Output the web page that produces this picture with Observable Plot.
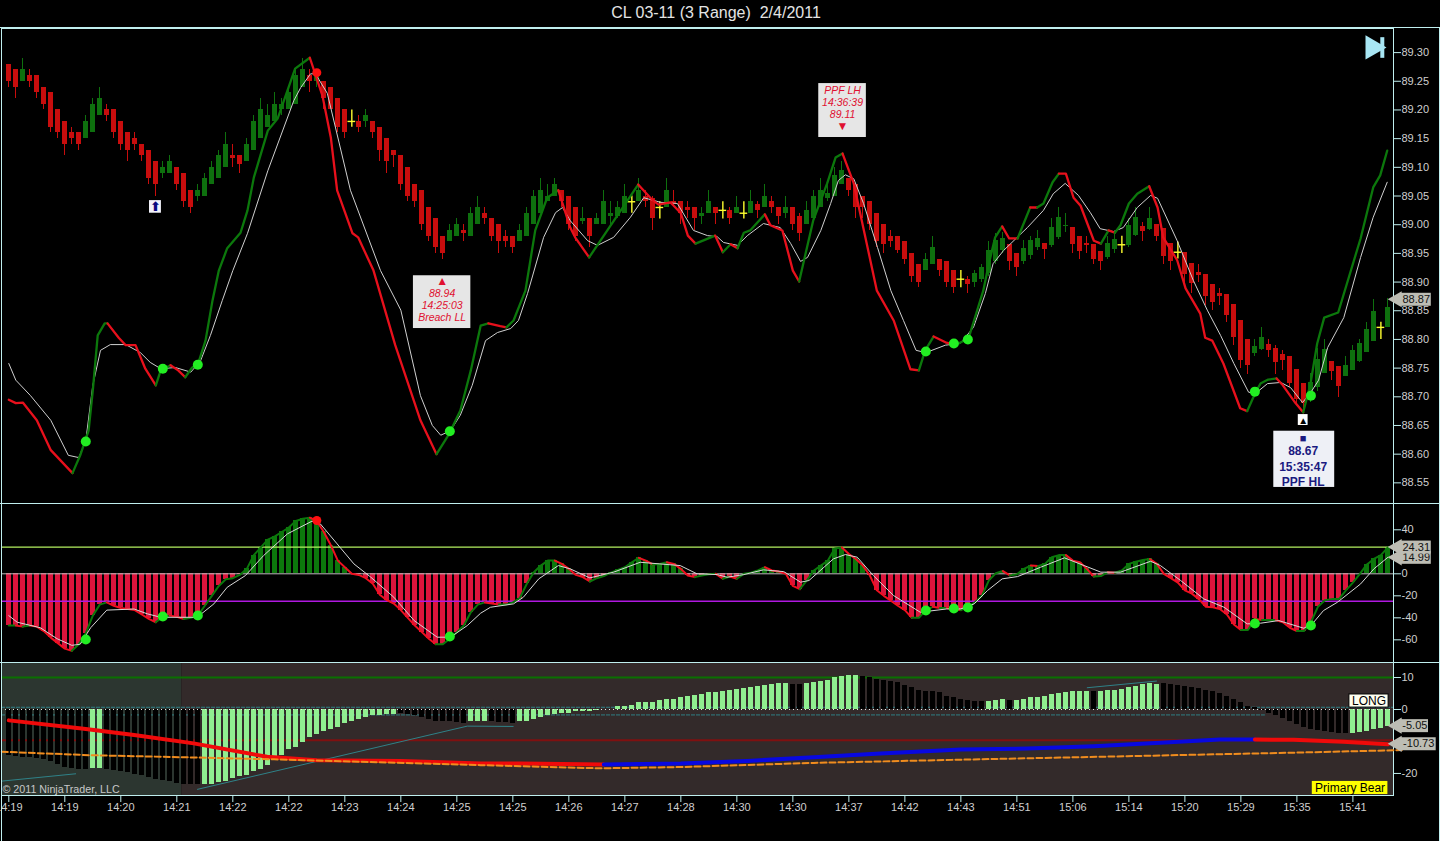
<!DOCTYPE html>
<html>
<head>
<meta charset="utf-8">
<script src="https://cdn.jsdelivr.net/npm/d3@7"></script>
<script src="https://cdn.jsdelivr.net/npm/@observablehq/plot@0.6"></script>
<style>
html,body{margin:0;padding:0;background:#000;width:1440px;height:841px;overflow:hidden}
body{font-family:"Liberation Sans",Arial,sans-serif}
#title{position:absolute;left:0;top:0;width:1432px;height:27px;line-height:26px;text-align:center;color:#e4e4e4;font-size:16px;white-space:pre}
.panel{position:absolute;left:0;width:1440px}
.panel svg{display:block}
.hl{position:absolute;left:0;width:1440px;height:1px;background:#bfeeee}
.vl{position:absolute;top:27px;width:1px;background:#bfeeee}
</style>
</head>
<body>
<div id="title">CL 03-11 (3 Range)  2/4/2011</div>
<div id="p1" class="panel" style="top:28px"></div>
<div id="p2" class="panel" style="top:503px"></div>
<div id="p3" class="panel" style="top:662px"></div>
<div class="hl" style="top:27px"></div>
<div class="hl" style="top:503px"></div>
<div class="hl" style="top:662px"></div>
<div class="vl" style="left:1px;height:814px"></div>
<div class="vl" style="left:1439px;height:814px"></div>
<script>
const opens = [89.28,89.27,89.25,89.26,89.26,89.24,89.23,89.20,89.18,89.16,
89.16,89.15,89.16,89.19,89.20,89.20,89.18,89.16,89.15,89.14,
89.13,89.11,89.09,89.09,89.10,89.09,89.06,89.05,89.05,89.07,
89.08,89.10,89.12,89.12,89.11,89.13,89.15,89.17,89.18,89.20,
89.20,89.21,89.24,89.26,89.25,89.25,89.24,89.22,89.20,89.18,
89.18,89.18,89.18,89.17,89.15,89.13,89.12,89.10,89.07,89.06,
89.03,89.01,88.98,88.97,88.98,88.99,88.98,89.00,89.02,89.01,
89.00,88.98,88.98,88.97,88.98,89.00,89.02,89.04,89.05,89.06,
89.05,89.03,89.005,89.01,89.00,89.00,89.015,89.015,89.02,89.04,
89.04,89.05,89.045,89.03,89.03,89.04,89.04,89.03,89.03,89.015,
89.02,89.03,89.025,89.025,89.02,89.02,89.02,89.035,89.03,89.04,
89.03,89.02,89.03,89.015,89.00,89.01,89.03,89.045,89.05,89.07,
89.08,89.07,89.05,89.04,89.02,89.00,88.98,88.98,88.97,88.95,
88.93,88.92,88.93,88.94,88.935,88.92,
88.905,88.905,88.90,88.905,88.915,88.935,88.955,88.965,88.95,88.936,88.946,88.96,88.968,88.963,88.978,88.996,88.995,88.98,88.968,88.966,88.953,88.943,88.956,88.965,88.964,88.982,88.996,88.992,89.001,88.993,88.968,88.952,88.952,88.933,88.916,88.914,88.896,88.88,88.878,88.861,88.833,88.80,88.776,88.782,88.792,88.785,88.774,88.77,88.747,88.723,88.70,88.716,88.74,88.761,88.753,88.736,88.745,88.762,88.778,88.797,88.821,88.821];
const closes = [89.25,89.24,89.27,89.25,89.23,89.21,89.17,89.16,89.14,89.15,
89.14,89.18,89.21,89.22,89.19,89.16,89.14,89.13,89.14,89.12,
89.08,89.07,89.10,89.11,89.07,89.04,89.03,89.06,89.08,89.10,
89.12,89.14,89.115,89.105,89.14,89.18,89.20,89.19,89.21,89.21,
89.23,89.26,89.27,89.25,89.26,89.22,89.20,89.17,89.16,89.18,
89.17,89.19,89.16,89.13,89.11,89.12,89.07,89.05,89.04,89.00,
88.98,88.96,88.95,88.99,89.00,88.985,89.02,89.03,89.01,88.98,
88.97,88.97,88.96,88.99,89.02,89.05,89.06,89.05,89.07,89.04,
89.00,88.98,89.01,88.98,89.01,89.04,89.02,89.03,89.05,89.04,
89.06,89.04,89.01,89.03,89.06,89.035,89.02,89.025,89.01,89.02,
89.04,89.02,89.025,89.01,89.03,89.02,89.04,89.025,89.05,89.03,
89.015,89.03,89.00,88.985,89.025,89.05,89.06,89.055,89.085,89.095,
89.06,89.03,89.03,89.00,88.97,88.965,88.97,88.955,88.94,88.91,
88.90,88.94,88.96,88.92,88.90,88.89,
88.905,88.895,88.915,88.925,88.955,88.972,88.976,88.935,88.925,88.958,88.972,88.976,88.957,88.995,89.012,88.999,88.965,88.954,88.963,88.94,88.935,88.968,88.975,88.965,88.998,89.012,88.989,89.01,88.98,88.945,88.935,88.952,88.914,88.897,88.911,88.874,88.865,88.874,88.842,88.804,88.764,88.755,88.787,88.803,88.78,88.759,88.763,88.723,88.696,88.688,88.725,88.765,88.782,88.744,88.718,88.755,88.78,88.793,88.817,88.849,88.821,88.855];
const highs = [89.28,89.27,89.29,89.27,89.26,89.24,89.23,89.20,89.18,89.17,
89.16,89.19,89.22,89.24,89.21,89.20,89.18,89.16,89.16,89.14,
89.13,89.11,89.11,89.12,89.10,89.09,89.06,89.07,89.09,89.11,
89.13,89.16,89.14,89.12,89.15,89.19,89.22,89.21,89.23,89.22,
89.24,89.27,89.29,89.27,89.27,89.25,89.24,89.22,89.20,89.20,
89.19,89.20,89.18,89.17,89.15,89.13,89.12,89.10,89.07,89.06,
89.03,89.01,88.98,89.00,89.01,89.00,89.03,89.05,89.03,89.01,
89.00,88.99,88.98,89.00,89.03,89.06,89.08,89.07,89.08,89.06,
89.05,89.03,89.03,89.01,89.02,89.06,89.04,89.04,89.07,89.05,
89.08,89.06,89.05,89.04,89.08,89.06,89.04,89.04,89.03,89.03,
89.06,89.03,89.04,89.03,89.05,89.04,89.06,89.04,89.07,89.05,
89.03,89.05,89.03,89.02,89.04,89.06,89.08,89.07,89.10,89.11,
89.08,89.07,89.05,89.04,89.02,89.00,88.99,88.98,88.97,88.95,
88.93,88.95,88.98,88.94,88.935,88.92,
88.92,88.91,88.92,88.93,88.97,88.985,88.987,88.965,88.95,88.972,88.98,88.99,88.968,89.01,89.03,89.02,88.995,88.98,88.98,88.966,88.953,88.98,88.987,88.98,89.01,89.03,89.004,89.03,89.001,88.993,88.968,88.97,88.952,88.933,88.93,88.914,88.896,88.888,88.878,88.861,88.833,88.80,88.80,88.82,88.80,88.79,88.78,88.77,88.747,88.723,88.74,88.784,88.80,88.761,88.753,88.77,88.79,88.80,88.83,88.87,88.83,88.872];
const lows = [89.24,89.22,89.25,89.24,89.22,89.20,89.16,89.15,89.12,89.14,
89.13,89.15,89.16,89.19,89.18,89.15,89.13,89.11,89.13,89.11,
89.07,89.05,89.08,89.09,89.06,89.03,89.02,89.04,89.05,89.07,
89.08,89.10,89.10,89.09,89.11,89.13,89.15,89.17,89.18,89.19,
89.20,89.21,89.24,89.23,89.24,89.20,89.20,89.16,89.15,89.17,
89.16,89.17,89.15,89.11,89.09,89.10,89.06,89.04,89.03,88.99,
88.97,88.95,88.94,88.97,88.98,88.97,88.98,89.00,89.00,88.97,
88.95,88.96,88.95,88.97,88.98,89.00,89.02,89.04,89.05,89.03,
88.99,88.97,89.00,88.96,89.00,89.00,89.00,89.01,89.02,89.02,
89.04,89.03,88.99,89.01,89.03,89.03,89.00,89.01,88.99,89.00,
89.02,89.00,89.01,89.00,89.02,89.01,89.02,89.01,89.03,89.02,
89.00,89.01,88.99,88.97,89.00,89.01,89.03,89.04,89.05,89.07,
89.05,89.01,89.01,88.99,88.96,88.95,88.96,88.95,88.93,88.90,
88.89,88.92,88.93,88.91,88.89,88.88,
88.89,88.88,88.89,88.90,88.91,88.93,88.95,88.92,88.91,88.93,88.94,88.955,88.94,88.96,88.975,88.987,88.95,88.94,88.95,88.93,88.92,88.94,88.95,88.95,88.96,88.98,88.97,88.99,88.97,88.93,88.92,88.94,88.90,88.88,88.90,88.86,88.85,88.86,88.83,88.79,88.75,88.739,88.77,88.78,88.768,88.739,88.746,88.717,88.688,88.676,88.69,88.71,88.74,88.728,88.698,88.736,88.745,88.76,88.778,88.797,88.80,88.82];

const fastBars = [0,1,2,4,6,9.1,10.2,11.4,12,12.7,13.7,14.1,15.7,16.7,18.1,19.5,21,21.7,23.1,24.2,25.2,26.2,27.1,28.1,29.1,30,31.2,33.1,34.1,35,37,38.4,40.9,43,44.8,46,46.9,49.1,49.9,52.1,55.2,58.8,61.1,62.8,64.5,66,67.4,68.5,70.2,71.1,72.1,73.8,75.2,76.9,78.5,80.2,80.9,82.9,89.9,91.7,92.8,94.5,96,97,98.1,100.9,102,103.1,104.1,105,105.9,108,108.8,110.5,112,112.9,114.9,116.9,118.1,119.1,120.7,124,126.4,128.8,130,130.9,132.1,133.8,135.2,137.1,139.2,140,140.9,141.9,142.9,144.1,145.9,146.9,147.8,149.1,150,151,152.1,153.1,155,156,157.1,158,158.8,160,161.2,162.9,164.1,164.9,166.9,168.1,170.2,170.9,171.9,173.5,175.9,176.9,178.1,178.8,179.9,181.1,182,183.8,184.9,185.9,186.9,187.9,189.9,193.1,194.9,195.9,196.9];
const fastVals = [88.695,88.689,88.69,88.659,88.607,88.567,88.598,88.641,88.711,88.807,88.828,88.828,88.803,88.79,88.79,88.749,88.72,88.746,88.755,88.746,88.734,88.751,88.76,88.798,88.868,88.92,88.959,88.986,89.025,89.082,89.164,89.185,89.272,89.291,89.225,89.152,89.06,88.985,88.978,88.92,88.79,88.659,88.60,88.633,88.676,88.746,88.824,88.828,88.823,88.821,88.833,88.885,88.99,89.047,89.06,88.995,88.978,88.943,89.07,89.046,89.035,89.039,89.02,88.981,88.967,88.981,88.952,88.966,88.959,88.986,88.99,89.018,88.999,88.99,88.92,88.901,89.007,89.072,89.117,89.124,89.072,88.885,88.833,88.748,88.746,88.781,88.805,88.795,88.79,88.802,88.885,88.932,88.978,88.997,88.976,88.976,89.03,89.03,89.037,89.074,89.089,89.089,89.047,89.033,88.972,88.967,88.99,88.986,88.999,89.037,89.054,89.067,89.03,88.978,88.938,88.889,88.845,88.803,88.798,88.758,88.68,88.675,88.708,88.723,88.73,88.732,88.72,88.689,88.673,88.72,88.793,88.838,88.847,88.976,89.065,89.086,89.129];
const fastTurns = [9.1,14.1,21,23.1,25.2,43,61.1,68.5,71.1,78.5,82.9,89.9,98.1,100.9,102,103.1,104.1,108,112.9,119.1,130,132.1,135.2,141.9,144.1,145.9,146.9,150,156,157.1,158,162.9,176.9,181.1,184.9];
const slowBars = [0,1,3.1,6,8.5,10,11,12,13.1,14.5,16.7,18.8,20.2,21.7,23.8,26,27.4,28.8,30.5,32,34.1,37,40.7,41.7,43.1,43.8,45.5,48.8,53.1,56,58.8,60.5,61.7,63.1,64.5,66.2,68.1,69.8,71.7,72.8,74.1,76.4,78.1,79.1,80.2,82.7,84.1,86.4,88.8,90.7,93.1,95.5,97.8,99.8,101.2,102.1,104.1,105.5,107.8,110.2,111.7,113.1,114.1,116,117.4,118.5,119.5,120.7,122.1,124.1,126,127.8,129.6,131,133.8,135.9,137.8,139.5,140.6,142.1,145.5,147.8,149.2,150.9,152.8,154.5,155.9,157.8,159.2,161.2,163.1,164.1,166.9,169.2,171.2,173.1,175,177.1,178.1,179.8,181.7,183.1,184.8,185.9,187.1,188.4,190.7,193.1,194.9,196.9];
const slowVals = [88.758,88.729,88.702,88.659,88.598,88.594,88.624,88.72,88.781,88.791,88.791,88.777,88.76,88.749,88.751,88.743,88.763,88.807,88.868,88.92,88.985,89.094,89.216,89.239,89.263,89.263,89.229,89.06,88.92,88.851,88.702,88.65,88.633,88.641,88.668,88.72,88.798,88.812,88.819,88.833,88.88,88.978,89.021,89.03,89.007,88.972,88.964,88.978,89.013,89.047,89.039,89.037,88.99,88.981,88.979,88.969,88.964,88.981,89.002,88.995,88.967,88.936,88.943,88.99,89.037,89.077,89.087,89.08,89.037,88.96,88.885,88.833,88.781,88.777,88.79,88.793,88.821,88.88,88.932,88.955,88.995,89.025,89.054,89.072,89.051,89.021,88.993,88.988,88.995,89.03,89.051,89.046,88.972,88.903,88.851,88.807,88.758,88.708,88.706,88.723,88.725,88.716,88.69,88.706,88.729,88.786,88.838,88.943,89.013,89.074];
const dotBars = [11,22,27,63,131,135,137,178,186];
const dotPrices = [88.622,88.749,88.756,88.64,88.779,88.793,88.80,88.709,88.702];
const dotMomentum = [-59.7,-38.8,-37.9,-57,-33.4,-31.5,-30.6,-45.2,-47];
const peakBar = 44, peakPrice = 89.265, peakMomentum = 48.5;

const momentum = [-47,-47,-48,-47,-48,-52,-58,-63,-68,-70,-64,-54,-38,-28,-26,-29,-31,-32,-33,-37,-41,-44,-39,-38,-39,-41,-40,-38,-29,-20,-11,-5,-4,-1,4.5,17,24,31,34,38,42,48,50,51,48,38,26,12,6,0,-1,-4,-9,-19,-24,-27,-33,-40,-47,-53,-59,-64,-64,-59,-53,-47,-35,-28,
-26,-27,-28,-28,-26,-22,-9,1.5,7.5,12,12,9,4.5,-1,-3,-7,-4,-2,1,3.5,6,10.5,14.5,12,8.5,9,10.5,9,4.5,-1.5,-3,-1.5,-.5,0,-4.5,-2.5,-4.5,0,1,3,6,3,2,0,-11,-14,-6,3,7.5,12,23,24,18,13.5,7.5,-1.5,-15,-20,-24.5,-29,-33,-40,-40,-33,-30,-31,-31,-32,
-33,-30.5,-26,-20,-6,.5,2.5,-1.5,-.5,4.5,7.5,7,9,15,17,17,12,10.5,4.5,-2.5,-2,1.5,1,3,9,11,12.5,13.5,9,0,-4,-8,-15,-18,-23,-30,-30.5,-32,-37,-46,-51,-51,-41,-42,-42,-42,-44,-49,-52,-52,-44,-30,-24,-23,-23,-15,-8,0,8.5,13.5,17,24];
const signalBars = [0,1.2,4.5,6.9,9,10.2,11.7,14,17.9,19.8,21.7,26.9,29.3,31.2,33.8,36.4,39.8,43.3,44.5,46.9,49.3,51.7,55,57.9,61.2,63.1,65.5,67.4,68.8,72.1,73.5,75.7,78.5,80.2,83,86.4,90.2,93,95.9,98.3,101.2,102.6,105,107.8,110.7,113.1,114.3,117.8,119.5,121.2,123.5,126.4,130.2,134,136,137.9,139.8,141.9,144.1,147.4,150.8,153.6,156,158.8,163.1,164.5,167.4,170.7,173.6,176.9,178.8,181.4,185,186.4,187.8,189.8,193.1,195,197];
const signalVals = [-38,-44,-49,-59,-65,-64,-49,-33,-32,-36.4,-39.5,-39.5,-27.3,-12.2,-1.6,16.6,36.3,47.8,45.4,27.2,9,-3,-21.3,-42.5,-57.6,-57.6,-47,-35.8,-30.4,-27.3,-21.3,-4.6,7.5,4.5,-3.7,1.5,10.5,9,7.5,0,-0.7,-3.1,-0.7,3.6,2,-7.6,-6.1,13.6,17.5,15.1,-1.6,-19.8,-34.9,-31.9,-31.9,-27.3,-15.2,-4.6,-2.5,6,14.5,7.5,1.5,1.5,11.4,7.5,-6.1,-22.8,-30.4,-45.5,-44.9,-42.5,-49.5,-44,-33.4,-25.8,-9.2,4.5,15];

const osc = [-14.5,-14.7,-15,-15,-15.2,-15.5,-16.4,-17.2,-18,-18.5,-18.8,-18.8,-18.5,-18.5,-18.8,-19,-19.5,-19.8,-20.3,-20.7,-21.4,-21.9,-22.2,-22.6,-23.2,-23.6,-23.6,-23.6,-23.6,-23.4,-22.9,-22.4,-21.6,-21.1,-20.5,-19.5,-18.8,-17.4,-15.9,-14.3,-12.5,-12,-10.4,-8.9,-7.8,-7,-6.1,-5.5,-4.5,-3.9,-3.2,-2.4,-2,-1.8,-1.6,-1.6,-1.4,-1.6,-1.8,-2.6,-3.1,-3.6,-3.9,-3.9,-4.2,-4.5,-3.9,-3.9,
-3.9,-3.9,-4.2,-4.2,-4.4,-3.9,-3.6,-3,-2.4,-1.8,-1.6,-1.1,-1.1,-.7,-.7,-.7,-.3,-.1,.1,.8,.9,1.2,2.1,2.3,2.3,2.9,3.2,3,3.9,4.2,4.5,4.7,5.2,5.4,5.5,5.9,6.4,6.7,7,7.3,7.5,7.9,8,8.2,7.9,7.9,8.2,8.4,8.9,9.2,9.9,10.4,10.5,10.7,10.4,9.9,9.5,9.2,8.9,8.3,7.6,6.8,6,5.7,5.5,5.2,4.2,3.9,
3.1,2.8,2.6,2.6,2.6,2.8,3.1,2.8,2.9,3.1,3.9,3.9,4.2,4.7,5.1,5.4,5.6,5.7,5.7,5.7,5.7,5.9,5.9,6.3,7,7.3,7.8,8,7.8,
8,7.8,7.6,7.3,7,6.6,5.9,5.5,4.9,4.2,3.1,2.1,1,.5,-.3,-1.3,-1.8,-2.8,-3.6,-4.7,-5.5,-6.4,-6.6,-6.8,-7.1,-7.6,-7.6,
-7.4,-7.2,-6.8,-6.1,-5.9,-5.3];
const oscGreenRuns = [[12,13],[28,55],[66,68],[73,85],[87,111],[114,121],[140,142],[144,154],[156,164],[192,197]];
const trendBars = [0,10.7,17.9,26.4,36.9,44,56,67.4,73.1,85,96,105.5,115,124.5,136,145.5,155,164.5,173,178,183.5,190.6,197];
const trendVals = [-3.4,-6,-8,-10.6,-14.8,-15.9,-16.1,-16.9,-16.9,-17.2,-16.9,-16.1,-14.9,-13.8,-12.5,-12.2,-11.5,-10.4,-9.4,-9.4,-9.5,-10.1,-10.9];
const avgBars = [-1,0,11.7,28.3,37.9,46.4,67.4,84.5,96,115,136,159.8,183.6,197,199];
const avgVals = [-13.2,-13.3,-14.3,-15.1,-15.6,-16.1,-17.4,-18.4,-18,-16.7,-15.7,-14.6,-13.5,-12.8,-12.7];
const channels = [[-1,-22.4,9.6,-20.1],[26.9,-25,65.5,-5.2],[65.5,-5.2,72.1,-5.3],[154,6.8,164,8.9]];

const timeLabels = ["14:19","14:19","14:20","14:21","14:22","14:22","14:23","14:24","14:25","14:25","14:26","14:27","14:28","14:30","14:30","14:37","14:42","14:43","14:51","15:06","15:14","15:20","15:29","15:35","15:41"];
const priceTicks = [88.55,88.60,88.65,88.70,88.75,88.80,88.85,88.90,88.95,89.00,89.05,89.10,89.15,89.20,89.25,89.30];
const momentumTicks = [40,0,-20,-40,-60];
const oscTicks = [10,0,-20];

const FONT = "Liberation Sans";
const FRAME = "#bfeeee", AXIS = "#cfcfcf";
const GREEN = "#0c780c", RED = "#e8101c", CRIMSON = "#dc143c", LIME = "#22ee22", PALE = "#90ee90", YELLOW = "#ffff30";
const CRISP = "crispEdges";
const bars = d3.range(opens.length);
const xScale = {domain:[-1.043,197.8], range:[1,1393]};
const base = h => ({width:1440, height:h, marginLeft:1, marginRight:47, marginTop:0, marginBottom:0,
  x:{...xScale, axis:null}, color:{type:"identity"},
  style:{background:"transparent", fontFamily:FONT, overflow:"visible"}});
const yAxis = (ticks,fmt) => Plot.axisY(ticks,{anchor:"right",label:null,tickSize:7,tickPadding:1,stroke:FRAME,fill:AXIS,fontSize:11,tickFormat:fmt});

function flag(val,text,x2){
  return [
    Plot.dot([val],{x:198.3,y:d=>d,symbol:"triangle",rotate:-90,r:6,fill:"#bdbdb4"}),
    Plot.ruleY([val],{x1:198.8,x2,strokeWidth:13,stroke:"#bdbdb4"}),
    Plot.text([text],{x:(198.9+x2)/2,y:()=>val,text:d=>d,fill:"#111",fontSize:11})
  ];
}
function runs(xs,ys,colorOf){
  const out=[]; let run=0, prev=null;
  xs.forEach((x,i)=>{
    const c=colorOf(i);
    if(prev!==null && c!==prev){ out.push({x,y:ys[i],run,color:prev}); run++; }
    out.push({x,y:ys[i],run,color:c}); prev=c;
  });
  return out;
}
const fastRows = runs(fastBars,fastVals,i=>fastTurns.filter(t=>t<=fastBars[i]).length%2? GREEN:RED);
const momRows = runs(bars,momentum,i=>(i<momentum.length-1?momentum[i+1]>=momentum[i]:true)?GREEN:RED);
const isDoji = i=> closes[i]===opens[i];
const colorCandle = i=> closes[i]>opens[i]?"#0e700e":closes[i]<opens[i]?"#c80d0d":YELLOW;

const priceCallouts = [
  {x1:57.8,x2:66,y1:88.819,y2:88.911,fill:"#e6e6e6"},
  {x1:115.7,x2:122.5,y1:89.152,y2:89.246,fill:"#e6e6e6"},
  {x1:180.7,x2:189.4,y1:88.542,y2:88.64,fill:"#eef0f6"},
  {x1:184.2,x2:185.6,y1:88.65,y2:88.669,fill:"#ffffff"},
  {x1:20.1,x2:21.8,y1:89.02,y2:89.042,fill:"#f2f2fa"}
];
const lossLines = [{x:61.9,y:88.901,t:"▲",s:12},{x:61.9,y:88.88,t:"88.94",s:10.5},{x:61.9,y:88.859,t:"14:25:03",s:10.5},{x:61.9,y:88.838,t:"Breach LL",s:10.5},
  {x:119.1,y:89.234,t:"PPF LH",s:10.5},{x:119.1,y:89.213,t:"14:36:39",s:10.5},{x:119.1,y:89.192,t:"89.11",s:10.5},{x:119.1,y:89.171,t:"▼",s:12}];
const gainLines = [{x:184.9,y:88.628,t:"■",s:11},{x:184.9,y:88.605,t:"88.67",s:12},{x:184.9,y:88.577,t:"15:35:47",s:12},{x:184.9,y:88.551,t:"PPF HL",s:12}];

document.getElementById("p1").appendChild(Plot.plot({...base(475),
  y:{domain:[88.514,89.342],range:[475,0],axis:null},
  marks:[
    Plot.frame({stroke:FRAME}),
    yAxis(priceTicks,d=>d.toFixed(2)),
    Plot.ruleX(bars.filter(i=>!isDoji(i)),{x:d=>d,y1:i=>lows[i],y2:i=>highs[i],stroke:i=>colorCandle(i),strokeWidth:1,shapeRendering:CRISP}),
    Plot.ruleX(bars.filter(i=>!isDoji(i)),{x:d=>d,y1:i=>opens[i],y2:i=>closes[i],stroke:i=>colorCandle(i),strokeWidth:5,shapeRendering:CRISP}),
    Plot.ruleX(bars.filter(isDoji),{x:d=>d,y1:i=>lows[i],y2:i=>highs[i],stroke:YELLOW,strokeWidth:1.4}),
    Plot.ruleY(bars.filter(isDoji),{x1:i=>i-0.55,x2:i=>i+0.55,y:i=>opens[i],stroke:YELLOW,strokeWidth:1.4}),
    Plot.line(slowBars.map((b,i)=>({b,v:slowVals[i]})),{x:"b",y:"v",stroke:"#d0d0d0",strokeWidth:1}),
    Plot.line(fastRows,{x:"x",y:"y",z:"run",stroke:"color",strokeWidth:2.3,curve:"linear"}),
    Plot.dot(dotBars,{x:d=>d,y:(d,i)=>dotPrices[i],r:5,fill:LIME}),
    Plot.dot([peakBar],{x:d=>d,y:()=>peakPrice,r:4.5,fill:"#ff1010"}),
    Plot.rect(priceCallouts,{x1:"x1",x2:"x2",y1:"y1",y2:"y2",fill:"fill"}),
    Plot.text(lossLines,{x:"x",y:"y",text:"t",fill:"#e01030",fontSize:d=>d.s,fontStyle:"italic"}),
    Plot.text(gainLines,{x:"x",y:"y",text:"t",fill:"#1a1a80",fontSize:d=>d.s,fontWeight:"bold"}),
    Plot.text(["▲"],{x:184.9,y:()=>88.659,text:d=>d,fill:"#000",fontSize:10}),
    Plot.text(["⬆"],{x:20.95,y:()=>89.031,text:d=>d,fill:"#0a0a80",fontSize:13,fontWeight:"bold",fontFamily:"DejaVu Sans"}),
    Plot.dot([194.8],{x:d=>d,y:()=>89.309,symbol:"triangle",rotate:90,r:9,fill:"#a8e6f4"}),
    Plot.ruleX([196.2],{y1:()=>89.29,y2:()=>89.326,stroke:"#a8e6f4",strokeWidth:4}),
    ...flag(88.87,"88.87",203.2)
  ]}));

document.getElementById("p2").appendChild(Plot.plot({...base(159),
  y:{domain:[-80.6,63.9],range:[159,0],axis:null},
  marks:[
    Plot.frame({stroke:FRAME}),
    yAxis(momentumTicks,d=>String(d)),
    Plot.ruleX(bars,{x:d=>d,y1:()=>0,y2:i=>momentum[i],stroke:i=>momentum[i]>=0?GREEN:CRIMSON,strokeWidth:5,shapeRendering:CRISP}),
    Plot.ruleY([24.31],{stroke:"#b4f060",strokeWidth:1.3}),
    Plot.ruleY([0],{stroke:"#bdbdbd",strokeWidth:1}),
    Plot.ruleY([-25],{stroke:"#b018e0",strokeWidth:1.4}),
    Plot.line(momRows,{x:"x",y:"y",z:"run",stroke:d=>d.color===GREEN?GREEN:"#f01020",strokeWidth:2}),
    Plot.line(signalBars.map((b,i)=>({b,v:signalVals[i]})),{x:"b",y:"v",stroke:"#d8d8d8",strokeWidth:1}),
    Plot.dot(dotBars,{x:d=>d,y:(d,i)=>dotMomentum[i],r:5,fill:LIME}),
    Plot.dot([peakBar],{x:d=>d,y:()=>peakMomentum,r:4.5,fill:"#ff1010"}),
    ...flag(14.99,"14.99",203.2),
    ...flag(24.31,"24.31",203.2)
  ]}));

const inGreen = i=>oscGreenRuns.some(([a,b])=>i>=a&&i<=b);
const trendRows = runs(trendBars,trendVals,i=>trendBars[i]>=85&&trendBars[i]<178?"#0808e0":"#f00a0a");
const ticksX = timeLabels.map((_,i)=>i*8);
document.getElementById("p3").appendChild(Plot.plot({...base(179),marginBottom:46,
  y:{domain:[-26.9,14.7],axis:null},
  marks:[
    Plot.rect([{a:-1.043,b:24.7,c:"#2c3630"},{a:24.7,b:197.8,c:"#332a2a"}],{x1:"a",x2:"b",y1:()=>-26.9,y2:()=>14.7,fill:"c"}),
    Plot.frame({stroke:FRAME}),
    yAxis(oscTicks,d=>String(d)),
    Plot.axisX(ticksX,{anchor:"bottom",label:null,tickSize:7,tickPadding:1,stroke:FRAME,fill:AXIS,fontSize:11,tickFormat:d=>timeLabels[d/8]}),
    Plot.ruleY([10],{stroke:"#0a7000",strokeWidth:2}),
    Plot.ruleY([-9.6],{stroke:"#801010",strokeWidth:2}),
    Plot.ruleY([0.7],{stroke:"#2f7f85",strokeWidth:1,strokeDasharray:"4,1"}),
    Plot.ruleY([-1.7],{x1:-1.043,x2:179.5,stroke:"#2f7f85",strokeWidth:1,strokeDasharray:"4,1"}),
    Plot.ruleX(bars,{x:d=>d,y1:()=>0,y2:i=>osc[i],stroke:i=>inGreen(i)?PALE:"#000",strokeWidth:5,shapeRendering:CRISP}),
    Plot.ruleY([0],{stroke:"#eaeaea",strokeWidth:1,strokeDasharray:"1,3"}),
    Plot.link(channels,{x1:d=>d[0],y1:d=>d[1],x2:d=>d[2],y2:d=>d[3],stroke:"#2f8288",strokeWidth:1}),
    Plot.line(trendRows,{x:"x",y:"y",z:"run",stroke:"color",strokeWidth:4}),
    Plot.line(avgBars.map((b,i)=>({b,v:avgVals[i]})),{x:"b",y:"v",stroke:"#f08c1e",strokeWidth:2,strokeDasharray:"6,3"}),
    Plot.text(["© 2011 NinjaTrader, LLC"],{x:-0.9,y:()=>-25,text:d=>d,textAnchor:"start",fill:"#c8c8c8",fontSize:10.7}),
    Plot.rect([0],{x1:191.5,x2:197.1,y1:()=>0.6,y2:()=>4.7,fill:"#fffff0",stroke:"#000"}),
    Plot.text(["LONG"],{x:194.3,y:()=>2.66,text:d=>d,fill:"#000",fontSize:12}),
    Plot.rect([0],{x1:186.2,x2:197,y1:()=>-26.6,y2:()=>-22.5,fill:"#ffff00"}),
    Plot.text(["Primary Bear"],{x:191.6,y:()=>-24.5,text:d=>d,fill:"#000",fontSize:12}),
    ...flag(-5.05,"-5.05",202.8),
    ...flag(-10.73,"-10.73",203.9)
  ]}));
</script>
</body>
</html>
